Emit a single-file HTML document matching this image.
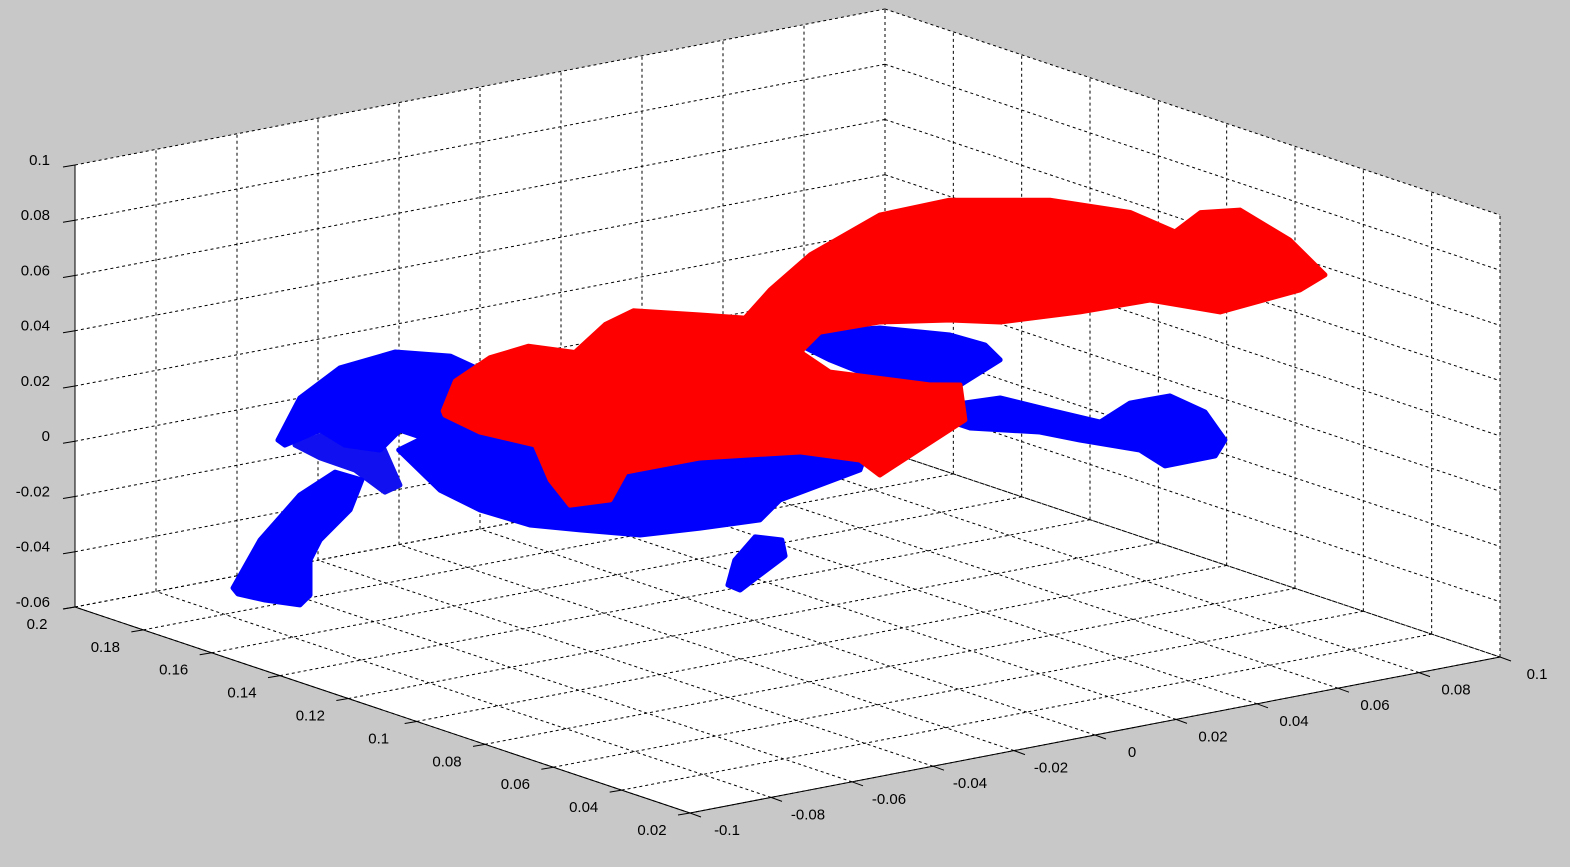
<!DOCTYPE html>
<html><head><meta charset="utf-8"><style>
html,body{margin:0;padding:0;background:#c8c8c8;}
svg{display:block;font-family:"Liberation Sans",sans-serif;}
</style></head><body>
<svg id="chart" width="1570" height="867" viewBox="0 0 1570 867" xmlns="http://www.w3.org/2000/svg">
<rect x="0" y="0" width="1570" height="867" fill="#c8c8c8"/>
<g id="axes"></g>
<g id="marks"></g>
<g id="labels"></g>
</svg>
<script>
// Ticks
const xTicks = [-0.1,-0.08,-0.06,-0.04,-0.02,0,0.02,0.04,0.06,0.08,0.1];
const xTickLabels = ["-0.1","-0.08","-0.06","-0.04","-0.02","0","0.02","0.04","0.06","0.08","0.1"];
const yTicks = [0.02,0.04,0.06,0.08,0.1,0.12,0.14,0.16,0.18,0.2];
const yTickLabels = ["0.02","0.04","0.06","0.08","0.1","0.12","0.14","0.16","0.18","0.2"];
const zTicks = [-0.06,-0.04,-0.02,0,0.02,0.04,0.06,0.08,0.1];
const zTickLabels = ["-0.06","-0.04","-0.02","0","0.02","0.04","0.06","0.08","0.1"];
// Cloud outlines in data coords (x,z) at depth y = cloudY
const cloudY = 0.11;
const redX = [-0.085,-0.082,-0.0735,-0.064,-0.0525,-0.045,-0.038,-0.022,-0.0105,-0.0043,0.0056,0.0228,0.040,0.0648,0.0846,0.0957,0.102,0.1117,0.124,0.1327,0.1265,0.1068,0.0895,0.0722,0.0525,0.0401,0.0228,0.008,0.0031,0.0105,0.0352,0.0426,0.0438,0.0228,0.0179,0.0031,-0.0216,-0.040,-0.0438,-0.0537,-0.0586,-0.0623,-0.0759,-0.0846];
const redZ = [0.044,0.054,0.060,0.0615,0.056,0.064,0.067,0.061,0.0566,0.065,0.0749,0.0845,0.085,0.078,0.068,0.0578,0.063,0.0612,0.0469,0.0318,0.0281,0.0257,0.0349,0.0355,0.0374,0.0416,0.0458,0.0463,0.0405,0.0311,0.0195,0.0174,0.0044,-0.0096,-0.0028,0.0043,0.0091,0.0092,0.0002,0.0011,0.0116,0.0253,0.0338,0.0424];
const blueAX = [-0.1258,-0.1204,-0.1105,-0.0969,-0.0833,-0.0747,-0.071,-0.0784,-0.0883,-0.0957,-0.1006,-0.1093,-0.1154,-0.1241];
const blueAZ = [0.045,0.0587,0.0668,0.0687,0.0634,0.0552,0.0368,0.0316,0.0344,0.0401,0.0343,0.0385,0.0457,0.0427];
const blueBX = [-0.0960,-0.0809,-0.0216,0.0204,0.0179,-0.0019,-0.0068,-0.0216,-0.0364,-0.0512,-0.0636,-0.0759,-0.0858];
const blueBZ = [0.0330,0.0396,0.0228,0.0037,-0.0064,-0.0117,-0.0175,-0.0163,-0.0146,-0.0086,-0.0033,0.0056,0.0156];
const blueCX = [0.0031,0.0068,0.0228,0.0401,0.0488,0.0525,0.0426,0.0401,0.0525,0.0648,0.0772,0.0846,0.0944,0.1031,0.108,0.1056,0.0932,0.087,0.0722,0.0623,0.0451,0.0377,0.0228,0.0105];
const blueCZ = [0.043,0.0467,0.0436,0.0362,0.0301,0.0237,0.0174,0.0108,0.0099,0.002,-0.0058,-0.001,-0.0012,-0.0095,-0.021,-0.0261,-0.0262,-0.0187,-0.0109,-0.0052,0.0011,0.0068,0.0248,0.0355];
const blueDX = [-0.1369,-0.1302,-0.1204,-0.1117,-0.1051,-0.108,-0.1154,-0.1179,-0.1179,-0.1204,-0.129,-0.1357];
const blueDZ = [-0.0054,0.0101,0.0236,0.0294,0.0247,0.0147,0.0059,-0.0006,-0.0133,-0.0162,-0.012,-0.0079];
const blueEX = [-0.0147,-0.013,-0.008,-0.0014,-0.0006,-0.0068,-0.0117];
const blueEZ = [-0.0388,-0.0303,-0.0233,-0.0263,-0.0323,-0.0374,-0.0415];
const blueFX = [-0.1216,-0.1105,-0.1006,-0.0957,-0.0994,-0.1068,-0.1154];
const blueFZ = [0.042,0.045,0.0379,0.0202,0.0187,0.0288,0.0356];

// projection
function P(x,y,z){
  const u=(x+0.1)/0.2, v=(0.2-y)/0.18, w=(z+0.06)/0.16;
  return [75+u*810+v*615, 607-u*156+v*206-w*442];
}
const NS="http://www.w3.org/2000/svg";
const axes=document.getElementById('axes'), marks=document.getElementById('marks'), labels=document.getElementById('labels');
function line(g,a,b,dash,name){
  const l=document.createElementNS(NS,'line');
  l.setAttribute('x1',a[0]);l.setAttribute('y1',a[1]);l.setAttribute('x2',b[0]);l.setAttribute('y2',b[1]);
  l.setAttribute('stroke','#000');l.setAttribute('stroke-width','1');
  if(dash) l.setAttribute('stroke-dasharray','3,3');
  
  
  g.appendChild(l);
}
function text(str,x,y,anchor,name){
  const t=document.createElementNS(NS,'text');
  t.setAttribute('x',x);t.setAttribute('y',y);t.setAttribute('text-anchor',anchor);
  t.setAttribute('font-size','15');t.setAttribute('fill','#000');t.setAttribute('dominant-baseline','middle');
  t.textContent=str;
  
  
  labels.appendChild(t);
}
// white axes area
const hull=[P(-0.1,0.2,0.1),P(0.1,0.2,0.1),P(0.1,0.02,0.1),P(0.1,0.02,-0.06),P(-0.1,0.02,-0.06),P(-0.1,0.2,-0.06)];
const bg=document.createElementNS(NS,'polygon');
bg.setAttribute('points',hull.map(p=>p.join(',')).join(' '));
bg.setAttribute('fill','#fff');


axes.appendChild(bg);
const zmin=-0.06,zmax=0.1;
xTicks.forEach(x=>line(axes,P(x,0.2,zmin),P(x,0.2,zmax),true,'back-wall-gridline'));
zTicks.forEach(z=>line(axes,P(-0.1,0.2,z),P(0.1,0.2,z),true,'back-wall-gridline'));
yTicks.forEach(y=>line(axes,P(0.1,y,zmin),P(0.1,y,zmax),true,'side-wall-gridline'));
zTicks.forEach(z=>line(axes,P(0.1,0.2,z),P(0.1,0.02,z),true,'side-wall-gridline'));
xTicks.forEach(x=>line(axes,P(x,0.02,zmin),P(x,0.2,zmin),true,'floor-gridline'));
yTicks.forEach(y=>line(axes,P(-0.1,y,zmin),P(0.1,y,zmin),true,'floor-gridline'));
line(axes,P(-0.1,0.2,zmin),P(-0.1,0.2,zmax),false,'z-axis-line');
line(axes,P(-0.1,0.2,zmin),P(-0.1,0.02,zmin),false,'y-axis-line');
line(axes,P(-0.1,0.02,zmin),P(0.1,0.02,zmin),false,'x-axis-line');
zTicks.forEach((z,i)=>{const p=P(-0.1,0.2,z);line(axes,p,[p[0]-12,p[1]+2],false,'z-tick');text(zTickLabels[i],p[0]-25,p[1]-4,'end','z-tick-label');});
yTicks.forEach((y,i)=>{const p=P(-0.1,y,zmin);line(axes,p,[p[0]-12,p[1]+2],false,'y-tick');text(yTickLabels[i],p[0]-38,p[1]+18,'middle','y-tick-label');});
xTicks.forEach((x,i)=>{const p=P(x,0.02,zmin);line(axes,p,[p[0]+11,p[1]+4],false,'x-tick');text(xTickLabels[i],p[0]+37,p[1]+18,'middle','x-tick-label');});
function cloud(xs,zs,color,name){
  const pts=xs.map((x,i)=>P(x,cloudY,zs[i]));
  const pg=document.createElementNS(NS,'polygon');
  pg.setAttribute('points',pts.map(p=>p.join(',')).join(' '));
  pg.setAttribute('fill',color);pg.setAttribute('stroke',color);pg.setAttribute('stroke-width','5');pg.setAttribute('stroke-linejoin','round');
  
  
  marks.appendChild(pg);
}
cloud(blueFX,blueFZ,'#1010f0','blue-cloud-scatter');
cloud(blueDX,blueDZ,'#0000ff','blue-cloud-leg');
cloud(blueEX,blueEZ,'#0000ff','blue-cloud-small');
cloud(blueBX,blueBZ,'#0000ff','blue-cloud-center');
cloud(blueCX,blueCZ,'#0000ff','blue-cloud-right');
cloud(blueAX,blueAZ,'#0000ff','blue-cloud-left');
cloud(redX,redZ,'#ff0000','red-cloud');
</script>
</body></html>
